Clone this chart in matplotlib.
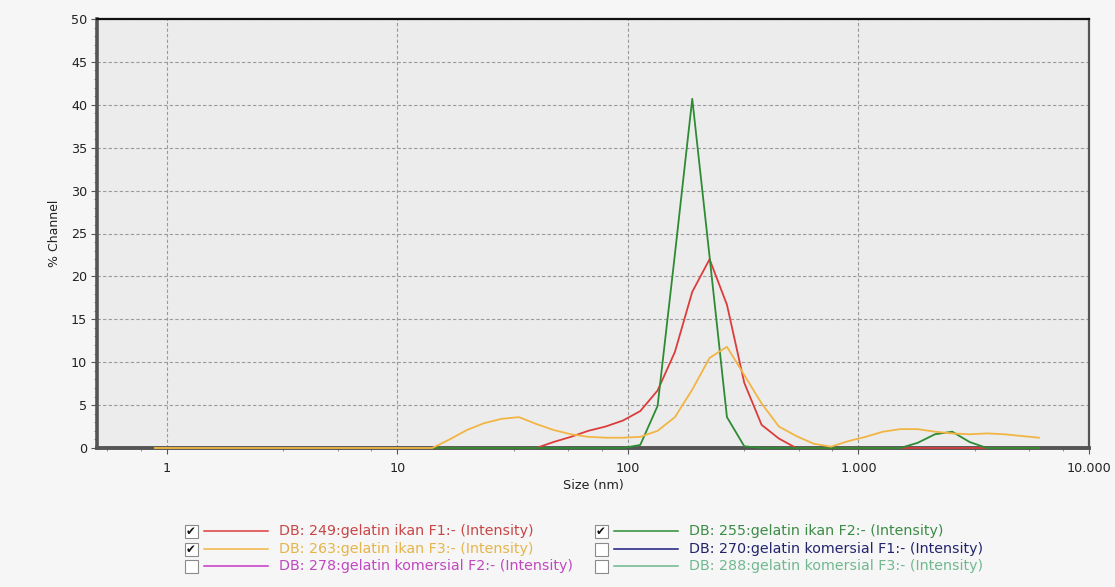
import matplotlib
matplotlib.use("Agg")
import matplotlib.pyplot as plt
from matplotlib.patches import Rectangle
from matplotlib.ticker import FixedLocator, LogLocator, MultipleLocator, NullFormatter

# ── Data ──────────────────────────────────────────────────────────────────────
SIZE_NM = [0.886, 14.15, 16.83, 20.01, 23.79, 28.29, 33.63, 39.99, 47.55, 56.54,
           67.23, 79.93, 95.06, 113.0, 134.4, 159.8, 190.0, 225.9, 268.7, 319.5,
           379.8, 451.6, 537.0, 638.6, 759.3, 902.8, 1073, 1276, 1518, 1805,
           2146, 2552, 3034, 3608, 4290, 5101, 6066]

F1_RED = [0, 0, 0, 0, 0, 0, 0, 0, 0.7, 1.3,
          2.0, 2.5, 3.2, 4.3, 6.7, 11.2, 18.2, 22.0, 16.7, 7.6,
          2.7, 1.1, 0, 0, 0, 0, 0, 0, 0, 0,
          0, 0, 0, 0, 0, 0, 0]

F2_GREEN = [0, 0, 0, 0, 0, 0, 0, 0, 0, 0,
            0, 0, 0, 0.35, 4.9, 22.6, 40.7, 22.3, 3.6, 0.2,
            0, 0, 0, 0, 0, 0, 0, 0, 0, 0.6,
            1.6, 1.9, 0.7, 0, 0, 0, 0]

F3_ORANGE = [0, 0, 1.0, 2.1, 2.9, 3.4, 3.6, 2.8, 2.1, 1.6,
             1.3, 1.2, 1.2, 1.3, 2.0, 3.6, 6.8, 10.5, 11.8, 8.5,
             5.2, 2.5, 1.4, 0.5, 0.15, 0.8, 1.3, 1.9, 2.2, 2.2,
             1.9, 1.7, 1.6, 1.7, 1.6, 1.4, 1.2]

X_TICKS = [1, 10, 100, 1000, 10000]
X_TICK_LABELS = ["1", "10", "100", "1.000", "10.000"]

LEGEND_LABELS = [
    "DB: 249:gelatin ikan F1:- (Intensity)",
    "DB: 255:gelatin ikan F2:- (Intensity)",
    "DB: 263:gelatin ikan F3:- (Intensity)",
    "DB: 270:gelatin komersial F1:- (Intensity)",
    "DB: 278:gelatin komersial F2:- (Intensity)",
    "DB: 288:gelatin komersial F3:- (Intensity)",
]
LEGEND_CHECKED = [True, True, True, False, False, False]

# ── Style ─────────────────────────────────────────────────────────────────────
C_RED = "#dc3c3c"
C_GREEN = "#2e8b34"
C_ORANGE = "#f2b544"
LINE_COLORS = [C_RED, C_GREEN, C_ORANGE, "#1c1c80", "#c838c8", "#6cb88c"]
TEXT_COLORS = ["#c84646", "#3c8c46", "#e6b44c", "#24246e", "#c048c0", "#70b890"]

W, H = 1115, 587
fig = plt.figure(figsize=(W / 100, H / 100), dpi=100, facecolor="#f6f6f6")

# plot area in pixels: x 97..1089, y 19..448
ax = fig.add_axes([97 / W, 1 - 448 / H, (1089 - 97) / W, (448 - 19) / H])
ax.set_facecolor("#ececec")

ax.plot(SIZE_NM, F1_RED, color=C_RED, lw=1.3, zorder=3, clip_on=False)
ax.plot(SIZE_NM, F2_GREEN, color=C_GREEN, lw=1.3, zorder=4, clip_on=False)
ax.plot(SIZE_NM, F3_ORANGE, color=C_ORANGE, lw=1.3, zorder=5, clip_on=False)

ax.set_xscale("log")
ax.set_xlim(0.497, 10000)
ax.set_ylim(0, 50)

ax.xaxis.set_major_locator(FixedLocator(X_TICKS))
ax.set_xticklabels(X_TICK_LABELS)
ax.xaxis.set_minor_locator(LogLocator(base=10, subs=(3.2, 5.5, 7.7), numticks=20))
ax.xaxis.set_minor_formatter(NullFormatter())
ax.yaxis.set_major_locator(MultipleLocator(5))
ax.yaxis.set_minor_locator(MultipleLocator(1))

ax.tick_params(axis="both", which="major", labelsize=9.2, colors="#555555",
               labelcolor="#222222", length=4, width=0.8)
ax.tick_params(axis="x", which="major", pad=6)
ax.tick_params(axis="y", which="major", pad=3)
ax.tick_params(axis="both", which="minor", colors="#777777", length=2, width=0.6)

ax.grid(True, which="major", color="#9a9a9a", linestyle=(0, (3, 2)), lw=0.8)
ax.set_axisbelow(True)

for side, col, lw in [("left", "#555555", 2.6), ("bottom", "#555555", 2.8),
                      ("top", "#111111", 1.6), ("right", "#555555", 1.6)]:
    ax.spines[side].set_color(col)
    ax.spines[side].set_linewidth(lw)

ax.set_ylabel("% Channel", fontsize=9, color="#222222", labelpad=7)
ax.set_xlabel("Size (nm)", fontsize=9.2, color="#222222", labelpad=3)

# ── Legend with check boxes (pixel coords) ────────────────────────────────────
lg = fig.add_axes([0, 0, 1, 1], facecolor="none")
lg.set_xlim(0, W)
lg.set_ylim(H, 0)
lg.axis("off")

col_x = [191, 601]
row_y = [531, 549, 566]
for i, label in enumerate(LEGEND_LABELS):
    row, col = divmod(i, 2)
    x0, y0 = col_x[col], row_y[row]
    lg.add_patch(Rectangle((x0 - 6.5, y0 - 6.5), 13, 13, facecolor="white",
                           edgecolor="#8a8a8a", lw=0.8))
    if LEGEND_CHECKED[i]:
        lg.text(x0, y0 + 0.5, "\u2714", ha="center", va="center",
                fontsize=8.5, color="#111111")
    lg.plot([x0 + 13, x0 + 77], [y0, y0], color=LINE_COLORS[i], lw=1.1)
    lg.text(x0 + 88, y0, label, ha="left", va="center",
            fontsize=10.3, color=TEXT_COLORS[i])

fig.savefig("out.png", dpi=100, facecolor=fig.get_facecolor())
